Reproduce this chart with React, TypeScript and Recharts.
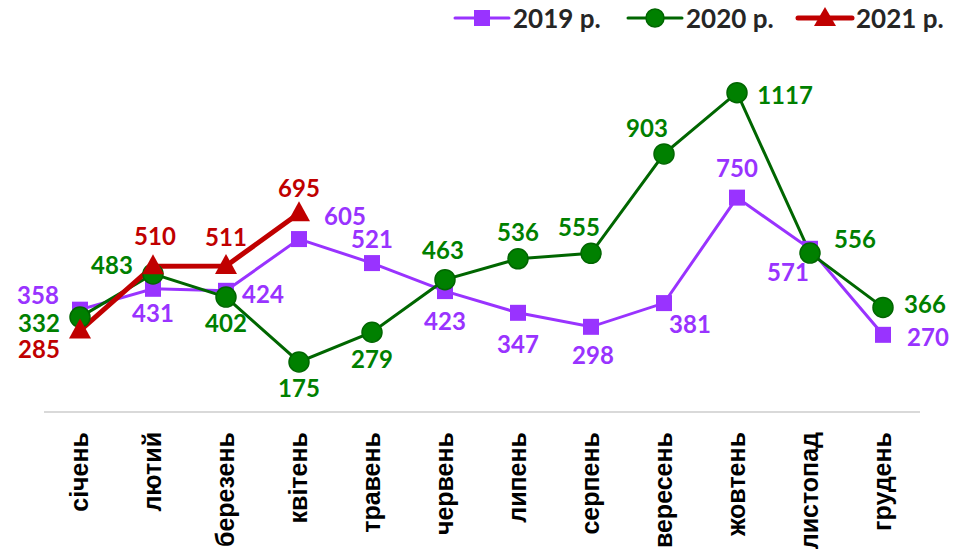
import { LineChart, Line, XAxis, YAxis, LabelList } from 'recharts'

const months = [
  'січень', 'лютий', 'березень', 'квітень', 'травень', 'червень',
  'липень', 'серпень', 'вересень', 'жовтень', 'листопад', 'грудень',
]
const values2019 = [358, 431, 424, 605, 521, 423, 347, 298, 381, 750, 571, 270]
const values2020 = [332, 483, 402, 175, 279, 463, 536, 555, 903, 1117, 556, 366]
const values2021 = [285, 510, 511, 695]
const seriesNames = ['2019 р.', '2020 р.', '2021 р.']

// зсуви підписів відносно точки [dx, dy]
const offsets2019 = [[-42, -15], [0, 24], [37, 3], [46, -24], [0, -25], [0, 29], [0, 31], [2, 28], [26, 20], [0, -30], [-22, 23], [45, 2]]
const offsets2020 = [[-41, 5], [-41, -9], [0, 25], [0, 26], [0, 26], [-2, -30], [0, -27], [-12, -27], [-17, -26], [48, 2], [45, -15], [42, -4]]
const offsets2021 = [[-41, 18], [2, -31], [0, -29], [0, -26]]

const PURPLE = '#9933FF'
const GREEN = '#008000'
const DARK_GREEN = '#006600'
const RED = '#C00000'

const data = months.map((m, i) => ({
  month: m,
  y2019: values2019[i],
  y2020: values2020[i],
  y2021: i < values2021.length ? values2021[i] : null,
}))

const labelFont = 'Lato, "Open Sans", sans-serif'

function makeLabel(color: string, offsets: number[][]) {
  return (props: any) => {
    const { x, y, index, value } = props
    if (value == null || x == null || y == null) return null
    const [dx, dy] = offsets[index] || [0, -25]
    return (
      <text
        x={x + dx}
        y={y + dy}
        textAnchor="middle"
        dominantBaseline="central"
        fill={color}
        fontFamily={labelFont}
        fontWeight={700}
        fontSize={24}
      >
        {value}
      </text>
    )
  }
}

function SquareDot(props: any) {
  const { cx, cy, index } = props
  if (cx == null || cy == null) return <g key={index} />
  return <rect key={index} x={cx - 8} y={cy - 8} width={16} height={16} fill={PURPLE} />
}

function CircleDot(props: any) {
  const { cx, cy, index } = props
  if (cx == null || cy == null) return <g key={index} />
  return <circle key={index} cx={cx} cy={cy} r={10} fill={GREEN} stroke={DARK_GREEN} strokeWidth={1.5} />
}

function TriangleDot(props: any) {
  const { cx, cy, index } = props
  if (cx == null || cy == null) return <g key={index} />
  return (
    <polygon
      key={index}
      points={`${cx},${cy - 12} ${cx + 11},${cy + 8} ${cx - 11},${cy + 8}`}
      fill={RED}
    />
  )
}

function MonthTick({ x, y, payload }: any) {
  const ax = x + 8
  const ay = y + 12
  return (
    <text
      x={ax}
      y={ay}
      transform={`rotate(-90, ${ax}, ${ay})`}
      textAnchor="end"
      fill="#000"
      fontFamily='"Liberation Sans", Arial, sans-serif'
      fontWeight={700}
      fontSize={25}
    >
      {payload.value}
    </text>
  )
}

function LegendBar() {
  const items = [
    { x: 455, color: PURPLE, marker: 'square' },
    { x: 628, color: DARK_GREEN, marker: 'circle' },
    { x: 798, color: RED, marker: 'triangle' },
  ]
  return (
    <svg width={953} height={40} style={{ position: 'absolute', left: 0, top: 0 }}>
      {items.map((it, i) => {
        const cx = it.x + 27
        return (
          <g key={i}>
            <line x1={it.x} y1={18} x2={it.x + 54} y2={18} stroke={it.color} strokeWidth={it.marker === 'triangle' ? 5 : 3} strokeLinecap="round" />
            {it.marker === 'square' && <rect x={cx - 8} y={10} width={16} height={16} fill={PURPLE} />}
            {it.marker === 'circle' && <circle cx={cx} cy={18} r={9} fill={GREEN} stroke={DARK_GREEN} strokeWidth={1.5} />}
            {it.marker === 'triangle' && <polygon points={`${cx},7 ${cx + 11},26 ${cx - 11},26`} fill={RED} />}
            <text x={it.x + 58} y={28} fontFamily={labelFont} fontWeight={700} fontSize={26} fill="#262626">
              {seriesNames[i]}
            </text>
          </g>
        )
      })}
    </svg>
  )
}

export default function App() {
  return (
    <div style={{ position: 'absolute', left: 0, top: 0, width: 953, height: 550, overflow: 'hidden', background: '#fff' }}>
      <LineChart
        width={953}
        height={550}
        data={data}
        margin={{ top: 69, right: 33, left: 44, bottom: 0 }}
      >
        <XAxis
          dataKey="month"
          interval={0}
          height={138}
          padding={{ left: 36, right: 37 }}
          tickLine={false}
          axisLine={{ stroke: '#d9d9d9', strokeWidth: 2 }}
          tick={<MonthTick />}
        />
        <YAxis hide domain={[0, 1200]} />
        <Line
          dataKey="y2019"
          stroke={PURPLE}
          strokeWidth={3}
          dot={<SquareDot />}
          activeDot={false}
          isAnimationActive={false}
        >
          <LabelList dataKey="y2019" content={makeLabel(PURPLE, offsets2019)} />
        </Line>
        <Line
          dataKey="y2020"
          stroke={DARK_GREEN}
          strokeWidth={3}
          dot={<CircleDot />}
          activeDot={false}
          isAnimationActive={false}
        >
          <LabelList dataKey="y2020" content={makeLabel(GREEN, offsets2020)} />
        </Line>
        <Line
          dataKey="y2021"
          stroke={RED}
          strokeWidth={5}
          dot={<TriangleDot />}
          activeDot={false}
          isAnimationActive={false}
        >
          <LabelList dataKey="y2021" content={makeLabel(RED, offsets2021)} />
        </Line>
      </LineChart>
      <LegendBar />
    </div>
  )
}
